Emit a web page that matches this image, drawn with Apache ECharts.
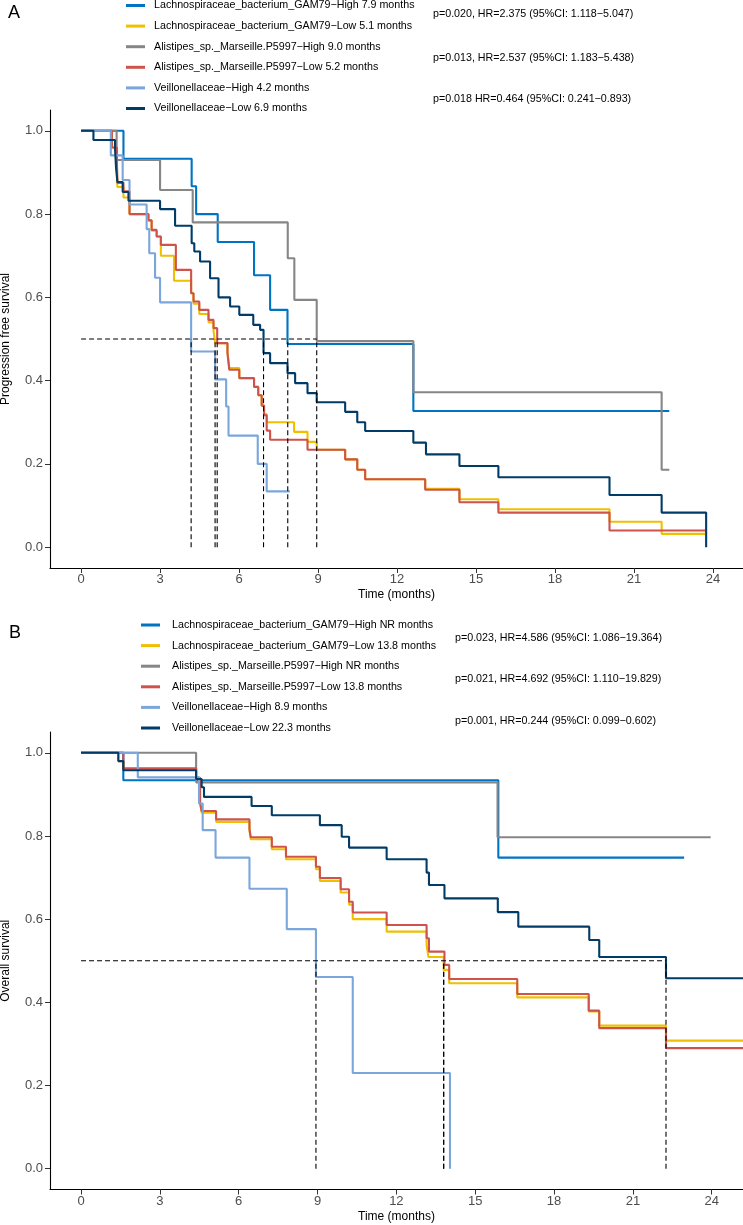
<!DOCTYPE html>
<html><head><meta charset="utf-8">
<script src="https://cdn.jsdelivr.net/npm/echarts@6/dist/echarts.min.js"></script>
<style>html,body{margin:0;padding:0;background:#fff}#c{width:743px;height:1225px}</style>
</head><body><div id="c"></div>
<script>
// ---------- data ----------
const xTicks = [0, 3, 6, 9, 12, 15, 18, 21, 24];
const yTicks = [0, 0.2, 0.4, 0.6, 0.8, 1.0];
const colors = ['#0073C2', '#EFC000', '#868686', '#CD534C', '#7AA6DC', '#003C67'];

const pfsNames = [
  'Lachnospiraceae_bacterium_GAM79−High 7.9 months',
  'Lachnospiraceae_bacterium_GAM79−Low 5.1 months',
  'Alistipes_sp._Marseille.P5997−High 9.0 months',
  'Alistipes_sp._Marseille.P5997−Low 5.2 months',
  'Veillonellaceae−High 4.2 months',
  'Veillonellaceae−Low 6.9 months'
];
const osNames = [
  'Lachnospiraceae_bacterium_GAM79−High NR months',
  'Lachnospiraceae_bacterium_GAM79−Low 13.8 months',
  'Alistipes_sp._Marseille.P5997−High NR months',
  'Alistipes_sp._Marseille.P5997−Low 13.8 months',
  'Veillonellaceae−High 8.9 months',
  'Veillonellaceae−Low 22.3 months'
];
const pfsStats = [
  'p=0.020, HR=2.375 (95%CI: 1.118−5.047)',
  'p=0.013, HR=2.537 (95%CI: 1.183−5.438)',
  'p=0.018 HR=0.464 (95%CI: 0.241−0.893)'
];
const osStats = [
  'p=0.023, HR=4.586 (95%CI: 1.086−19.364)',
  'p=0.021, HR=4.692 (95%CI: 1.110−19.829)',
  'p=0.001, HR=0.244 (95%CI: 0.099−0.602)'
];

// Progression free survival curves [time, survival]
const pfsLachnoHigh = [[0,1],[1.61,0.933],[4.2,0.867],[4.37,0.8],[5.19,0.733],[6.57,0.653],[7.18,0.57],[7.84,0.488],[12.62,0.327],[22.34,0.327]];
const pfsLachnoLow = [[0,1],[1.17,0.96],[1.36,0.92],[1.38,0.865],[1.61,0.84],[1.84,0.80],[2.56,0.785],[2.68,0.76],[2.87,0.746],[3.03,0.70],[3.53,0.64],[4.18,0.61],[4.27,0.585],[4.49,0.56],[4.84,0.54],[5.03,0.52],[5.09,0.49],[5.56,0.47],[5.63,0.43],[6.01,0.406],[6.57,0.385],[6.73,0.365],[6.86,0.34],[6.95,0.32],[7.05,0.30],[8.09,0.277],[8.6,0.253],[8.95,0.234],[10.03,0.211],[10.49,0.186],[10.79,0.163],[13.07,0.14],[14.37,0.115],[15.85,0.091],[20.07,0.061],[22.05,0.032],[23.7,0.032]];
const pfsAlistipesHigh = [[0,1],[1.35,0.93],[3.0,0.858],[4.24,0.78],[7.85,0.694],[8.1,0.594],[8.95,0.495],[12.62,0.372],[22.05,0.186],[22.34,0.186]];
const pfsAlistipesLow = [[0,1],[1.17,0.96],[1.36,0.93],[1.38,0.875],[1.61,0.855],[1.84,0.80],[2.56,0.785],[2.68,0.762],[2.87,0.746],[3.03,0.726],[3.6,0.666],[4.18,0.61],[4.27,0.59],[4.49,0.57],[4.84,0.546],[5.03,0.526],[5.17,0.49],[5.56,0.466],[5.63,0.426],[6.01,0.406],[6.57,0.385],[6.73,0.365],[6.86,0.34],[6.95,0.317],[7.05,0.28],[7.18,0.258],[8.6,0.234],[10.03,0.211],[10.49,0.186],[10.79,0.163],[13.07,0.138],[14.37,0.108],[15.85,0.083],[20.07,0.04],[23.7,0.04]];
const pfsVeilloHigh = [[0,1],[1.13,0.941],[1.58,0.882],[1.84,0.823],[2.49,0.764],[2.59,0.706],[2.81,0.647],[3.0,0.588],[4.18,0.47],[5.09,0.403],[5.51,0.338],[5.6,0.268],[6.71,0.2],[7.05,0.134],[7.93,0.134]];
const pfsVeilloLow = [[0,1],[0.47,0.978],[1.29,0.956],[1.33,0.91],[1.38,0.877],[1.58,0.853],[1.8,0.832],[3.0,0.812],[3.57,0.772],[4.2,0.73],[4.3,0.71],[4.52,0.686],[4.9,0.646],[5.22,0.60],[5.66,0.578],[6.01,0.558],[6.54,0.534],[6.8,0.522],[6.93,0.466],[7.18,0.442],[7.84,0.418],[8.13,0.394],[8.6,0.37],[8.95,0.348],[10.03,0.325],[10.49,0.30],[10.79,0.279],[12.62,0.251],[13.1,0.223],[14.37,0.195],[15.85,0.168],[20.07,0.1255],[22.05,0.083],[23.74,0.0]];
const pfsMedians = [4.18, 5.09, 5.17, 6.93, 7.85, 8.95];

// Overall survival curves [time, survival]
const osLachnoHigh = [[0,1],[1.61,0.934],[15.88,0.748],[22.95,0.748]];
const osLachnoLow = [[0,1],[1.42,0.98],[1.61,0.961],[4.38,0.94],[4.53,0.88],[4.59,0.856],[5.14,0.834],[6.41,0.812],[6.46,0.792],[7.26,0.768],[7.8,0.744],[8.94,0.72],[9.09,0.692],[9.88,0.664],[10.2,0.635],[10.34,0.60],[11.63,0.57],[13.15,0.538],[13.22,0.509],[13.8,0.478],[14.01,0.446],[16.6,0.412],[19.32,0.378],[19.72,0.344],[22.26,0.308],[25.19,0.308]];
const osAlistipesHigh = [[0,1],[4.38,0.929],[15.85,0.797],[23.96,0.797]];
const osAlistipesLow = [[0,1],[1.61,0.963],[4.38,0.94],[4.53,0.88],[4.59,0.86],[5.14,0.84],[6.41,0.817],[6.46,0.797],[7.26,0.774],[7.8,0.75],[8.94,0.726],[9.09,0.699],[9.88,0.672],[10.2,0.642],[10.34,0.616],[11.63,0.586],[13.15,0.554],[13.24,0.522],[13.83,0.49],[14.01,0.456],[16.6,0.42],[19.32,0.38],[19.72,0.338],[22.26,0.29],[25.19,0.29]];
const osVeilloHigh = [[0,1],[2.16,0.941],[4.49,0.878],[4.63,0.814],[5.12,0.748],[6.41,0.673],[7.83,0.576],[8.94,0.461],[10.34,0.23],[14.04,0.0]];
const osVeilloLow = [[0,1],[1.42,0.98],[1.61,0.958],[4.38,0.937],[4.59,0.917],[4.68,0.894],[6.49,0.872],[7.26,0.85],[9.09,0.826],[9.92,0.798],[10.2,0.772],[11.63,0.744],[13.15,0.712],[13.24,0.682],[13.83,0.65],[15.86,0.617],[16.64,0.582],[19.34,0.55],[19.72,0.509],[22.26,0.458],[25.19,0.458]];
const osMedians = [8.94, 13.8, 13.8, 22.26];

// ---------- chart ----------
const FONT = '"Liberation Sans", Arial, Helvetica, sans-serif';
const pfsCurves = [pfsLachnoHigh, pfsLachnoLow, pfsAlistipesHigh, pfsAlistipesLow, pfsVeilloHigh, pfsVeilloLow];
const osCurves = [osLachnoHigh, osLachnoLow, osAlistipesHigh, osAlistipesLow, osVeilloHigh, osVeilloLow];

function curve(name, data, color, gi) {
  return { type: 'line', name, data, step: 'end', xAxisIndex: gi, yAxisIndex: gi,
    symbol: 'none', showSymbol: false, animation: false, z: 2,
    lineStyle: { color, width: 2.1 }, itemStyle: { color } };
}
function dash(data, gi) {
  return { type: 'line', data, xAxisIndex: gi, yAxisIndex: gi, symbol: 'none', showSymbol: false,
    animation: false, silent: true, z: 3, lineStyle: { color: '#000', width: 1.1, type: [5, 3] } };
}
function medianLines(meds, gi) {
  const out = [dash([[0, 0.5], [Math.max(...meds), 0.5]], gi)];
  meds.forEach(m => out.push(dash([[m, 0], [m, 0.5]], gi)));
  return out;
}
function xAxis(gi) {
  return { type: 'value', gridIndex: gi, min: -1.18, max: gi === 0 ? 25.14 : 25.19,
    name: 'Time (months)', nameLocation: 'middle', nameGap: 21,
    nameTextStyle: { fontSize: 12, color: '#000', fontFamily: FONT },
    axisLine: { onZero: false, lineStyle: { color: '#000', width: 1.1 } },
    axisTick: { customValues: xTicks, length: 5, lineStyle: { color: '#333' } },
    axisLabel: { customValues: xTicks, margin: 5, fontSize: 13, color: '#4D4D4D', fontFamily: FONT },
    splitLine: { show: false } };
}
function yAxis(gi, name) {
  return { type: 'value', gridIndex: gi, min: -0.05, max: 1.05,
    name, nameLocation: 'middle', nameGap: 38,
    nameTextStyle: { fontSize: 12, color: '#000', fontFamily: FONT },
    axisLine: { show: true, onZero: false, lineStyle: { color: '#000', width: 1.1 } },
    axisTick: { show: true, customValues: yTicks, length: 5, lineStyle: { color: '#333' } },
    axisLabel: { customValues: yTicks, margin: 7, fontSize: 13, color: '#4D4D4D', fontFamily: FONT,
      formatter: v => v.toFixed(1) },
    splitLine: { show: false } };
}
function legend(names, left, top, textPad) {
  return { data: names, orient: 'vertical', left, top, padding: 0, itemWidth: 19, itemHeight: 3,
    itemGap: 9.6, icon: 'rect', selectedMode: false,
    textStyle: { fontSize: 10.7, lineHeight: 11, color: '#000', fontFamily: FONT, padding: [0, 0, 0, textPad] } };
}
function statTexts(list, x, ys) {
  return list.map((t, i) => ({ type: 'text', x, y: ys[i],
    style: { text: t, font: '10.7px ' + FONT, fill: '#000', verticalAlign: 'middle' } }));
}

const series = [];
pfsCurves.forEach((d, i) => series.push(curve(pfsNames[i], d, colors[i], 0)));
osCurves.forEach((d, i) => series.push(curve(osNames[i], d, colors[i], 1)));
series.push(...medianLines(pfsMedians, 0), ...medianLines(osMedians, 1));

const chart = echarts.init(document.getElementById('c'), null, { renderer: 'canvas' });
chart.setOption({
  backgroundColor: '#fff',
  animation: false,
  grid: [
    { left: 50, top: 110, width: 693, height: 458, containLabel: false, outerBoundsMode: 'none' },
    { left: 50, top: 732, width: 693, height: 457.5, containLabel: false, outerBoundsMode: 'none' }
  ],
  xAxis: [xAxis(0), xAxis(1)],
  yAxis: [yAxis(0, 'Progression free survival'), yAxis(1, 'Overall survival')],
  legend: [legend(pfsNames, 126, 0, 4), legend(osNames, 141, 619.5, 7)],
  graphic: [
    { type: 'text', x: 8, y: 13, style: { text: 'A', font: '18px ' + FONT, fill: '#000', verticalAlign: 'middle' } },
    { type: 'text', x: 9, y: 633, style: { text: 'B', font: '18px ' + FONT, fill: '#000', verticalAlign: 'middle' } },
    ...statTexts(pfsStats, 433, [14, 58, 99]),
    ...statTexts(osStats, 455, [638, 679, 721])
  ],
  series
});
</script></body></html>
